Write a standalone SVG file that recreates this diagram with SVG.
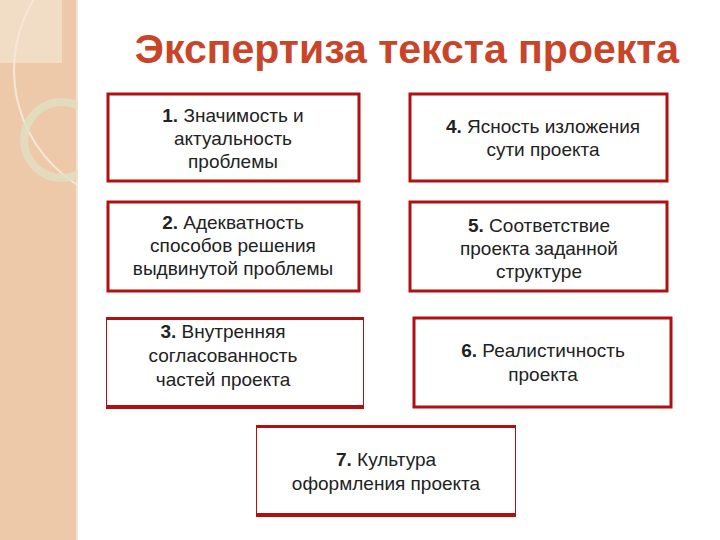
<svg xmlns="http://www.w3.org/2000/svg" width="720" height="540" viewBox="0 0 720 540">
<style>
text{font-family:"Liberation Sans",Arial,sans-serif;font-size:19px;fill:#222;text-anchor:middle}
.t{font-size:41px;font-weight:bold;fill:#c8452a}
.b{font-weight:bold}
.box{fill:#fff;stroke:#b01010;stroke-width:3}
.thin{fill:#fff;stroke:#b01010;stroke-width:1}
.bar{fill:#b01010}
</style>
<rect x="0" y="0" width="720" height="540" fill="#fff"/>
<rect x="0" y="0" width="78" height="540" fill="#edc9aa"/>
<rect x="0" y="0" width="62" height="63" fill="#f1dcc5"/>
<rect x="76" y="0" width="2" height="540" fill="#f4e3d3"/>
<circle cx="150" cy="70" r="136" fill="none" stroke="#f6e7d6" stroke-width="2"/>
<circle cx="62" cy="140" r="38" fill="none" stroke="#e0e0c2" stroke-width="8" opacity="0.8"/>
<rect x="78" y="0" width="642" height="540" fill="#fff"/>
<text class="t" x="407" y="63">Экспертиза текста проекта</text>
<g id="n1"><rect class="box" x="108" y="94" width="251" height="87"/>
<text x="233" y="122"><tspan class="b">1.</tspan> Значимость и</text><text x="233" y="145">актуальность</text><text x="233" y="168">проблемы</text></g>
<g id="n4"><rect class="box" x="410" y="94" width="257" height="87"/>
<text x="543" y="133"><tspan class="b">4.</tspan> Ясность изложения</text><text x="543" y="156">сути проекта</text></g>
<g id="n2"><rect class="box" x="108" y="202" width="251" height="89"/>
<text x="233" y="229"><tspan class="b">2.</tspan> Адекватность</text><text x="233" y="252">способов решения</text><text x="233" y="275">выдвинутой проблемы</text></g>
<g id="n5"><rect class="box" x="410" y="202" width="257" height="89"/>
<text x="539" y="232"><tspan class="b">5.</tspan> Соответствие</text><text x="539" y="255">проекта заданной</text><text x="539" y="278">структуре</text></g>
<g id="n3"><rect class="thin" x="106.5" y="317.5" width="257" height="91"/>
<rect class="bar" x="106" y="317" width="258" height="3"/><rect class="bar" x="106" y="405" width="258" height="4"/>
<text x="223" y="338"><tspan class="b">3.</tspan> Внутренняя</text><text x="223" y="362">согласованность</text><text x="223" y="386">частей проекта</text></g>
<g id="n6"><rect class="box" x="414" y="318" width="257" height="89"/>
<text x="543" y="357"><tspan class="b">6.</tspan> Реалистичность</text><text x="543" y="381">проекта</text></g>
<g id="n7"><rect class="thin" x="256.5" y="425.5" width="259" height="91"/>
<rect class="bar" x="256" y="425" width="260" height="3"/><rect class="bar" x="256" y="513" width="260" height="4"/>
<text x="386" y="466"><tspan class="b">7.</tspan> Культура</text><text x="386" y="490">оформления проекта</text></g>
<g id="connectors"/>
</svg>
